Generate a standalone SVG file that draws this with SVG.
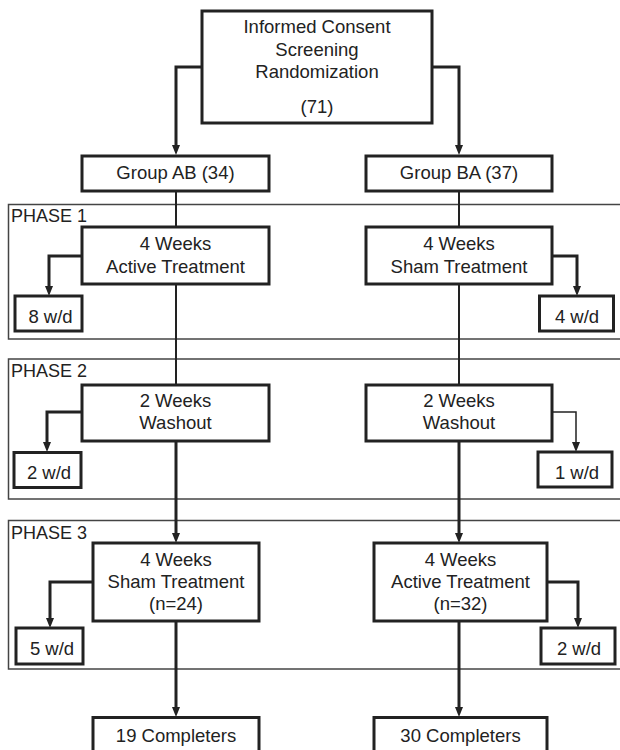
<svg xmlns="http://www.w3.org/2000/svg" width="620" height="750" viewBox="0 0 620 750">
<style>
.box{fill:#fff;stroke:#222;stroke-width:3}
.frame{fill:none;stroke:#444;stroke-width:1.5}
.t{font-family:"Liberation Sans",Arial,sans-serif;font-size:18.5px;fill:#222;text-anchor:middle}
.lbl{font-family:"Liberation Sans",Arial,sans-serif;font-size:18px;fill:#222}
.c{fill:none;stroke:#222;stroke-width:3}
.thin{fill:none;stroke:#222;stroke-width:2}
.hair{fill:none;stroke:#222;stroke-width:1.5}
</style>
<defs>
<marker id="ah" markerUnits="userSpaceOnUse" markerWidth="10" markerHeight="10" refX="4" refY="4" orient="auto" viewBox="0 0 10 8">
<path d="M0,0 L10,4 L0,8 z" fill="#222"/>
</marker>
</defs>
<g id="phases">
<rect class="frame" x="8.5" y="204.5" width="620" height="134.5"/>
<text class="lbl" x="11" y="222">PHASE 1</text>
<rect class="frame" x="8.5" y="359" width="620" height="140"/>
<text class="lbl" x="11" y="377">PHASE 2</text>
<rect class="frame" x="8.5" y="520.5" width="620" height="148.5"/>
<text class="lbl" x="11" y="538.5">PHASE 3</text>
</g>
<g id="connectors">
<path class="c" d="M202,67 H176 V149" marker-end="url(#ah)"/>
<path class="c" d="M432,67 H459 V149" marker-end="url(#ah)"/>
<path class="thin" d="M176,191 V227"/>
<path class="thin" d="M459,191 V227"/>
<path class="c" d="M82,256 H49 V290" marker-end="url(#ah)"/>
<path class="c" d="M552,256 H577 V290" marker-end="url(#ah)"/>
<path class="thin" d="M176,284 V385"/>
<path class="thin" d="M459,284 V385"/>
<path class="c" d="M82,412 H47 V446" marker-end="url(#ah)"/>
<path class="hair" d="M552,412 H576 V446" marker-end="url(#ah)"/>
<path class="c" d="M176,441 V537" marker-end="url(#ah)"/>
<path class="c" d="M459,441 V537" marker-end="url(#ah)"/>
<path class="c" d="M93,582 H50 V622" marker-end="url(#ah)"/>
<path class="c" d="M547,582 H578 V622" marker-end="url(#ah)"/>
<path class="c" d="M176,621 V711" marker-end="url(#ah)"/>
<path class="c" d="M459,621 V711" marker-end="url(#ah)"/>
</g>
<g id="consent">
<rect class="box" x="202" y="11" width="230" height="112"/>
<text class="t" x="317" y="32.5">Informed Consent</text>
<text class="t" x="317" y="55.5">Screening</text>
<text class="t" x="317" y="77.5">Randomization</text>
<text class="t" x="317" y="112.5">(71)</text>
</g>
<g id="groupAB">
<rect class="box" x="82" y="156" width="187" height="35"/>
<text class="t" x="175.5" y="178.5">Group AB (34)</text>
</g>
<g id="groupBA">
<rect class="box" x="366" y="156" width="186" height="35"/>
<text class="t" x="459" y="178.5">Group BA (37)</text>
</g>
<g id="p1AB">
<rect class="box" x="82" y="227" width="187" height="57"/>
<text class="t" x="175.5" y="249.5">4 Weeks</text>
<text class="t" x="175.5" y="272.5">Active Treatment</text>
</g>
<g id="p1BA">
<rect class="box" x="366" y="227" width="186" height="57"/>
<text class="t" x="459" y="249.5">4 Weeks</text>
<text class="t" x="459" y="272.5">Sham Treatment</text>
</g>
<g id="wd8">
<rect class="box" x="15" y="296" width="67" height="35"/>
<text class="t" x="50.5" y="322.5">8 w/d</text>
</g>
<g id="wd4">
<rect class="box" x="539.5" y="296" width="74" height="35"/>
<text class="t" x="577" y="322.5">4 w/d</text>
</g>
<g id="p2AB">
<rect class="box" x="82" y="385" width="187" height="56"/>
<text class="t" x="175.5" y="407">2 Weeks</text>
<text class="t" x="175.5" y="429">Washout</text>
</g>
<g id="p2BA">
<rect class="box" x="366" y="385" width="186" height="56"/>
<text class="t" x="459" y="407">2 Weeks</text>
<text class="t" x="459" y="429">Washout</text>
</g>
<g id="wd2a">
<rect class="box" x="14" y="452.5" width="67" height="35"/>
<text class="t" x="49" y="479">2 w/d</text>
</g>
<g id="wd1">
<rect class="box" x="538" y="452" width="74" height="35"/>
<text class="t" x="577" y="479">1 w/d</text>
</g>
<g id="p3AB">
<rect class="box" x="93" y="543" width="166" height="78"/>
<text class="t" x="176" y="565.5">4 Weeks</text>
<text class="t" x="176" y="587.5">Sham Treatment</text>
<text class="t" x="176" y="610">(n=24)</text>
</g>
<g id="p3BA">
<rect class="box" x="374" y="543" width="173" height="78"/>
<text class="t" x="460.5" y="565.5">4 Weeks</text>
<text class="t" x="460.5" y="587.5">Active Treatment</text>
<text class="t" x="460.5" y="610">(n=32)</text>
</g>
<g id="wd5">
<rect class="box" x="16" y="628" width="67" height="36"/>
<text class="t" x="52" y="655">5 w/d</text>
</g>
<g id="wd2b">
<rect class="box" x="541" y="628" width="74" height="36"/>
<text class="t" x="579" y="655">2 w/d</text>
</g>
<g id="compAB">
<rect class="box" x="93" y="717.5" width="166" height="40"/>
<text class="t" x="176" y="742">19 Completers</text>
</g>
<g id="compBA">
<rect class="box" x="374" y="717.5" width="173" height="40"/>
<text class="t" x="460.5" y="742">30 Completers</text>
</g>
</svg>
